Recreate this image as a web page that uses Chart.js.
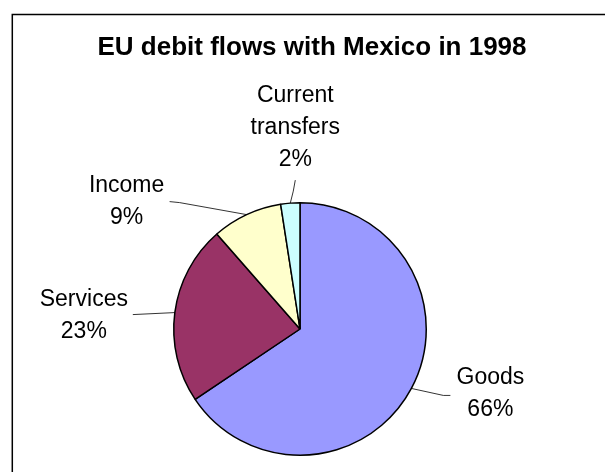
<!DOCTYPE html>
<html>
<head>
<meta charset="utf-8">
<script src="https://cdn.jsdelivr.net/npm/chart.js@4.4.1/dist/chart.umd.min.js"></script>
<style>
  html, body { margin: 0; padding: 0; background: #fff; }
  canvas { display: block; }
</style>
</head>
<body>
<canvas id="pie" width="605" height="472"></canvas>
<script>
const chartTitle = "EU debit flows with Mexico in 1998";
const categories = ["Goods", "Services", "Income", "Current transfers"];
const shares = [65.6, 22.95, 9.0, 2.45];
const sliceColors = ["#9999FF", "#993366", "#FFFFCC", "#CCFFFF"];

// where each label sits, relative to the outer mid point of its slice
// dx/dy = text centre / first baseline, leader = points of the leader line
const labelPlace = [
  { dx: 79,  dy: -4,   leader: [[32, 7], [39, 7]] },
  { dx: -91, dy: -7,   leader: [[-42, 2]] },
  { dx: -120, dy: -23, leader: [[-67, -12], [-77, -13]] },
  { dx: 5,   dy: -101, leader: [[3, -12], [5, -23]] }
];

const labelFont = "23px 'Liberation Sans', Arial, sans-serif";
const lineGap = 32;

function wrap(ctx, text, maxW) {
  const words = text.split(" ");
  const lines = [];
  let cur = "";
  words.forEach(w => {
    const t = cur ? cur + " " + w : w;
    if (cur && ctx.measureText(t).width > maxW) { lines.push(cur); cur = w; }
    else cur = t;
  });
  if (cur) lines.push(cur);
  return lines;
}

const framePlugin = {
  id: "frame",
  beforeDraw(chart) {
    const ctx = chart.ctx;
    ctx.save();
    ctx.fillStyle = "#fff";
    ctx.fillRect(0, 0, chart.width, chart.height);
    ctx.strokeStyle = "#000";
    ctx.lineWidth = 1.5;
    ctx.beginPath();
    ctx.moveTo(12.3, chart.height + 5);
    ctx.lineTo(12.3, 14.6);
    ctx.lineTo(chart.width + 5, 14.6);
    ctx.stroke();
    ctx.fillStyle = "#000";
    ctx.font = "bold 26px 'Liberation Sans', Arial, sans-serif";
    ctx.textAlign = "center";
    ctx.textBaseline = "alphabetic";
    ctx.fillText(chartTitle, 312, 55);
    ctx.restore();
  }
};

const labelPlugin = {
  id: "sliceLabels",
  afterDatasetsDraw(chart) {
    const ctx = chart.ctx;
    const arcs = chart.getDatasetMeta(0).data;
    const total = shares.reduce((s, v) => s + v, 0);
    ctx.save();
    ctx.font = labelFont;
    ctx.fillStyle = "#000";
    ctx.strokeStyle = "#000";
    ctx.lineWidth = 0.8;
    ctx.textAlign = "center";
    ctx.textBaseline = "alphabetic";
    arcs.forEach((arc, i) => {
      const mid = (arc.startAngle + arc.endAngle) / 2;
      const px = arc.x + Math.cos(mid) * arc.outerRadius;
      const py = arc.y + Math.sin(mid) * arc.outerRadius;
      const p = labelPlace[i];
      ctx.beginPath();
      ctx.moveTo(px, py);
      p.leader.forEach(([lx, ly]) => ctx.lineTo(px + lx, py + ly));
      ctx.stroke();
      const lines = wrap(ctx, categories[i], 100);
      lines.push(Math.round(shares[i] / total * 100) + "%");
      lines.forEach((t, k) => ctx.fillText(t, px + p.dx, py + p.dy + k * lineGap));
    });
    ctx.restore();
  }
};

new Chart(document.getElementById("pie"), {
  type: "pie",
  data: {
    labels: categories,
    datasets: [{
      data: shares,
      backgroundColor: sliceColors,
      borderColor: "#000",
      borderWidth: 1.5
    }]
  },
  options: {
    responsive: false,
    animation: false,
    devicePixelRatio: 1,
    layout: { padding: { left: 173, right: 178, top: 202, bottom: 16 } },
    plugins: {
      legend: { display: false },
      title: { display: false },
      tooltip: { enabled: false }
    }
  },
  plugins: [framePlugin, labelPlugin]
});
</script>
</body>
</html>
